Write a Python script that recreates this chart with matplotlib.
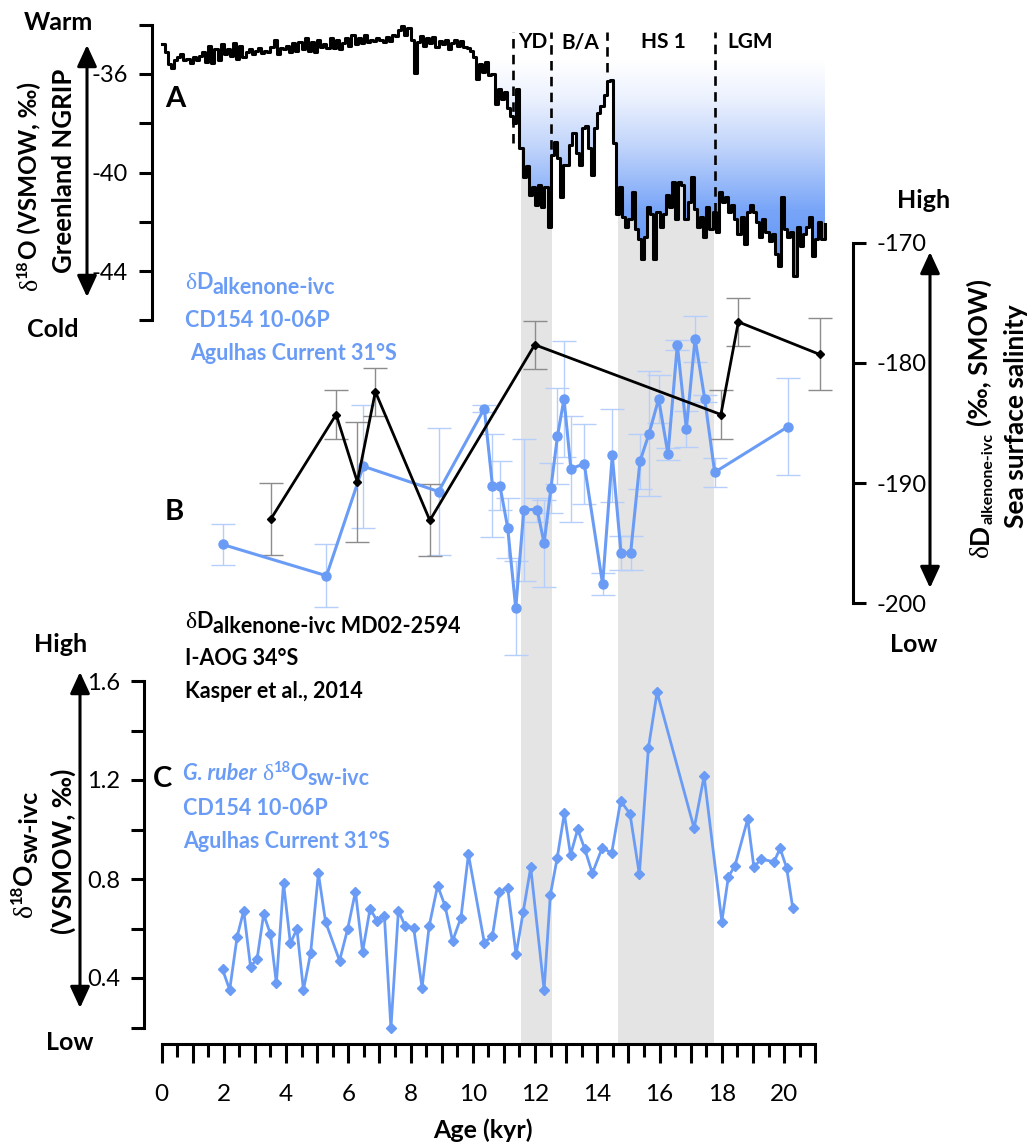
import numpy as np
import matplotlib
matplotlib.use("Agg")
import matplotlib.pyplot as plt
from matplotlib.colors import LinearSegmentedColormap
from matplotlib.patches import FancyArrowPatch, ArrowStyle

# ---------------------------------------------------------------- data
# NGRIP ice core d18O (per mil VSMOW) on a 100-yr grid starting at 0 kyr
ngrip_start = 0.0
ngrip_step = 0.1
ngrip_d18o = [
    -34.80, -35.10, -35.60, -35.75, -35.45, -35.30, -35.20, -35.45, -35.40, -35.55,
    -35.30, -35.45, -35.25, -35.10, -35.50, -34.85, -35.55, -35.00, -35.45, -34.80,
    -35.20, -35.00, -35.25, -34.75, -35.40, -34.85, -35.30, -35.10, -35.00, -35.20,
    -35.05, -34.95, -35.15, -35.05, -35.10, -34.90, -34.60, -35.20, -34.95, -35.00,
    -34.85, -35.10, -34.75, -35.05, -34.70, -35.00, -34.55, -35.05, -34.70, -35.10,
    -34.60, -34.90, -34.80, -34.95, -34.55, -34.95, -34.60, -35.00, -34.75, -34.55,
    -34.85, -34.40, -34.80, -34.55, -34.75, -34.40, -34.70, -34.60, -34.65, -34.55,
    -34.60, -34.70, -34.50, -34.65, -34.40, -34.45, -34.20, -34.05, -34.40, -34.15,
    -34.60, -35.95, -34.70, -34.45, -34.85, -34.55, -34.75, -34.50, -34.90, -34.65,
    -34.80, -34.60, -35.00, -34.75, -34.60, -34.85, -34.65, -34.90, -34.95, -35.05,
    -35.30, -36.20, -35.60, -35.90, -35.50, -36.05, -36.00, -37.20, -36.60, -37.00,
    -36.75, -37.40, -37.70, -38.00, -36.60, -39.00, -40.20, -39.75, -40.90, -40.60,
    -41.30, -40.50, -41.40, -40.60, -42.20, -39.30, -38.75, -39.40, -41.00, -39.70,
    -39.70, -38.90, -38.40, -39.20, -39.70, -38.20, -38.10, -39.00, -40.10, -38.20,
    -37.60, -37.30, -36.85, -36.30, -36.25, -38.80, -41.70, -40.60, -41.80, -42.20,
    -41.90, -40.80, -42.30, -42.70, -43.50, -42.60, -41.40, -41.70, -43.50, -41.60,
    -42.20, -41.70, -40.90, -41.40, -40.40, -41.90, -40.40, -40.50, -41.90, -41.20,
    -40.20, -41.50, -42.20, -41.80, -42.60, -41.40, -42.30, -41.60, -42.40, -40.80,
    -41.20, -41.00, -41.60, -41.30, -41.90, -42.50, -41.80, -42.90, -41.60, -41.30,
    -41.60, -42.00, -42.60, -41.90, -42.40, -42.80, -42.50, -43.30, -43.80, -41.00,
    -42.30, -42.60, -42.40, -44.20, -42.20, -43.00, -42.50, -42.20, -41.80, -43.40,
    -42.70, -42.00, -42.70, -42.10,
]
ngrip_fill_from = 10.0  # kyr, start of the shaded deglacial/glacial part

# CD154 10-06P alkenone dD, ice-volume corrected (per mil SMOW)
cd154_dd_age = [1.96, 5.30, 6.48, 8.90, 10.37, 10.63, 10.87, 11.12, 11.38, 11.64,
                12.07, 12.29, 12.51, 12.72, 12.93, 13.15, 13.58, 14.17, 14.48, 14.76,
                15.07, 15.37, 15.66, 15.97, 16.27, 16.57, 16.86, 17.14, 17.45, 17.77,
                20.13]
cd154_dd = [-195.1, -197.7, -188.6, -190.7, -183.8, -190.2, -190.2, -193.7, -200.4, -192.2,
            -192.2, -195.0, -190.4, -186.1, -183.0, -188.8, -188.4, -198.4, -187.7, -195.8,
            -195.8, -188.2, -185.9, -183.0, -187.6, -178.5, -185.5, -178.0, -183.0, -189.1,
            -185.3]
cd154_dd_err = [1.7, 2.6, 5.1, 5.3, 0.3, 4.3, 2.0, 2.5, 3.9, 5.9,
                1.0, 3.6, 2.1, 4.0, 4.8, 4.4, 3.3, 0.9, 3.9, 1.4,
                1.4, 2.3, 5.2, 2.0, 0.5, 0.4, 1.5, 1.9, 0.3, 1.2,
                4.0]

# MD02-2594 alkenone dD, ice-volume corrected (Kasper et al., 2014)
md02_dd_age = [3.51, 5.61, 6.29, 6.87, 8.62, 11.99, 17.97, 18.53, 21.14]
md02_dd = [-193.0, -184.3, -189.9, -182.4, -193.1, -178.5, -184.3, -176.6, -179.3]
md02_dd_err = [3.0, 2.0, 5.0, 2.0, 3.0, 2.0, 2.0, 2.0, 3.0]

# CD154 10-06P G. ruber d18O seawater, ice-volume corrected (per mil VSMOW)
cd154_d18osw_age = [1.96, 2.19, 2.43, 2.64, 2.86, 3.07, 3.28, 3.50, 3.69, 3.92,
                    4.14, 4.35, 4.56, 4.79, 5.04, 5.27, 5.72, 5.98, 6.23, 6.46,
                    6.70, 6.92, 7.16, 7.37, 7.61, 7.83, 8.10, 8.37, 8.60, 8.87,
                    9.11, 9.35, 9.62, 9.86, 10.37, 10.63, 10.85, 11.12, 11.39, 11.62,
                    11.86, 12.29, 12.49, 12.71, 12.94, 13.14, 13.37, 13.60, 13.84, 14.16,
                    14.46, 14.75, 15.05, 15.35, 15.64, 15.92, 17.11, 17.43, 18.00, 18.21,
                    18.42, 18.83, 19.03, 19.25, 19.68, 19.87, 20.08, 20.28]
cd154_d18osw = [0.435, 0.352, 0.567, 0.672, 0.446, 0.476, 0.657, 0.578, 0.379, 0.783,
                0.540, 0.598, 0.352, 0.500, 0.823, 0.627, 0.470, 0.598, 0.749, 0.506,
                0.680, 0.632, 0.651, 0.197, 0.672, 0.610, 0.603, 0.361, 0.611, 0.773,
                0.691, 0.549, 0.644, 0.900, 0.543, 0.570, 0.749, 0.765, 0.496, 0.668,
                0.847, 0.352, 0.735, 0.884, 1.065, 0.897, 1.001, 0.920, 0.823, 0.927,
                0.904, 1.116, 1.063, 0.819, 1.328, 1.555, 1.005, 1.216, 0.628, 0.809,
                0.853, 1.042, 0.847, 0.880, 0.870, 0.924, 0.846, 0.682]

# climate intervals
phase_bounds = [11.28, 12.50, 14.30, 17.78]
phase_bound_low = [-38.8, -39.7, -35.9, -41.6]
phase_names = ["YD", "B/A", "HS 1", "LGM"]
phase_label_age = [11.92, 13.45, 16.12, 18.92]
band_start = [11.55, 14.65]
band_end = [12.55, 17.75]

# axis ticks
a_ticks = [-46, -44, -42, -40, -38, -36, -34]
a_labels = ["", "-44", "", "-40", "", "-36", ""]
b_ticks = [-200, -190, -180, -170]
b_labels = ["-200", "-190", "-180", "-170"]
c_ticks = [0.2, 0.4, 0.6, 0.8, 1.0, 1.2, 1.4, 1.6]
c_labels = ["", "0.4", "", "0.8", "", "1.2", "", "1.6"]
x_major = list(range(0, 22))
x_labels = [str(v) if v % 2 == 0 else "" for v in x_major]
x_minor = [v + 0.5 for v in range(0, 21)]

# ---------------------------------------------------------------- style
W, H, DPI = 1035, 1147, 100
SANS = ["Lato", "DejaVu Sans"]
SERIF = ["Liberation Serif", "DejaVu Serif"]
BLUE = "#6a9cf6"
BLUE_ERR = "#b5cefb"
GRAY_ERR = "#8c8c8c"
BAND = "#e4e4e4"
SPINE_W = 2.2

plt.rcParams["font.family"] = SANS
plt.rcParams["axes.unicode_minus"] = False

fig = plt.figure(figsize=(W / DPI, H / DPI), dpi=DPI)

# horizontal layout shared by all panels (pixels)
PX0, PXK = 161.5, 31.13
XLIM = (-1.0, 23.0)


def axes_px(top, bottom, z):
    left = PX0 + XLIM[0] * PXK
    width = (XLIM[1] - XLIM[0]) * PXK
    ax = fig.add_axes([left / W, 1 - bottom / H, width / W, (bottom - top) / H], zorder=z)
    ax.set_xlim(*XLIM)
    ax.set_facecolor("none")
    return ax


def hide_spines(ax, names):
    for n in names:
        ax.spines[n].set_visible(False)


# pixel-space layer for free text and arrows
bg = fig.add_axes([0, 0, 1, 1], zorder=0.5)
bg.set_xlim(0, W)
bg.set_ylim(H, 0)
bg.axis("off")


def rich(pieces, x, y, rotation=0, color="black"):
    prev = None
    for p in pieces:
        if prev is None:
            xy, coords = (x, y), bg.transData
        elif rotation == 0:
            xy, coords = (1, y), (prev, bg.transData)
        else:
            xy, coords = (x, 1), (bg.transData, prev)
        rise, gap = p.get("rise", 0), p.get("gap", 0)
        off = (gap, rise) if rotation == 0 else (-rise, gap)
        prev = bg.annotate(p["s"], xy=xy, xycoords=coords, xytext=off,
                           textcoords="offset points", fontsize=p.get("size", 15.5),
                           fontweight=p.get("weight", "bold"), fontstyle=p.get("style", "normal"),
                           family=p.get("family", SANS), color=color, ha="left",
                           va="baseline", rotation=rotation, rotation_mode="anchor",
                           annotation_clip=False)
    return prev


def darrow(x, y_top, y_bot):
    bg.add_patch(FancyArrowPatch((x, y_bot), (x, y_top),
                                 arrowstyle=ArrowStyle("<|-|>", head_length=1.3, head_width=0.6),
                                 mutation_scale=10, lw=2.2, color="black",
                                 shrinkA=0, shrinkB=0))


# ---------------------------------------------------------------- shaded intervals
band_ax = axes_px(25, 1044, 0)
band_ax.set_ylim(0, 1)
for s, e in zip(band_start, band_end):
    band_ax.axvspan(s, e, color=BAND, lw=0)
band_ax.axis("off")

# ---------------------------------------------------------------- panel A: NGRIP
A_LIM = (-46.2, -33.8)
a_top = 74 + (-36 - A_LIM[1]) * 24.625
a_bot = 74 + (-36 - A_LIM[0]) * 24.625
axA = axes_px(a_top, a_bot, 2)

ages = ngrip_start + ngrip_step * np.arange(len(ngrip_d18o))
vals = np.array(ngrip_d18o)
sel = ages >= ngrip_fill_from - 1e-9
fill = axA.fill_between(ages[sel], vals[sel], -34, step="post",
                        facecolor="none", edgecolor="none")
cmap = LinearSegmentedColormap.from_list(
    "ngrip_fill",
    [(0.0, "#ffffff"), (0.14, "#ffffff"), (0.29, "#ebf1fe"), (0.48, "#bfd3fb"),
     (0.72, "#78a5f8"), (1.0, "#5a8ef6")])
grad = np.linspace(1, 0, 256).reshape(-1, 1)
im = axA.imshow(grad, cmap=cmap, extent=(ngrip_fill_from, ages[-1], -44.5, -34.0),
                origin="lower", aspect="auto", zorder=1, interpolation="bilinear")
im.set_clip_path(fill.get_paths()[0], transform=axA.transData)

axA.step(ages, vals, where="post", color="black", lw=2.2, zorder=3)
axA.vlines(phase_bounds, phase_bound_low, -34.3, colors="black", lw=1.9,
           linestyles=(0, (3.6, 2.4)), zorder=4)
for a, name in zip(phase_label_age, phase_names):
    axA.text(a, -34.95, name, ha="center", va="baseline", fontsize=15, fontweight="bold")

axA.set_xlim(*XLIM)
axA.set_ylim(*A_LIM)
hide_spines(axA, ["top", "right", "bottom"])
axA.spines["left"].set_position(("data", -0.3))
axA.spines["left"].set_bounds(-46, -34)
axA.spines["left"].set_linewidth(SPINE_W)
axA.set_yticks(a_ticks, labels=a_labels)
axA.tick_params(axis="y", direction="out", length=9.5, width=SPINE_W, pad=8, labelsize=17)
axA.xaxis.set_visible(False)

# ---------------------------------------------------------------- panel B: alkenone dD
B_LIM = (-206, -164)
b_top = 242.5 + (-170 - B_LIM[1]) * 12.03
b_bot = 242.5 + (-170 - B_LIM[0]) * 12.03
axB = axes_px(b_top, b_bot, 3)
axB.errorbar(cd154_dd_age, cd154_dd, yerr=cd154_dd_err, fmt="none", ecolor=BLUE_ERR,
             elinewidth=1.0, capsize=8.5, capthick=1.0, zorder=2)
axB.plot(cd154_dd_age, cd154_dd, "-o", color=BLUE, lw=2.2, ms=6.5, zorder=3)
axB.errorbar(md02_dd_age, md02_dd, yerr=md02_dd_err, fmt="none", ecolor=GRAY_ERR,
             elinewidth=1.0, capsize=8.5, capthick=1.0, zorder=2)
axB.plot(md02_dd_age, md02_dd, "-D", color="black", lw=2.0, ms=4.5, zorder=4)
axB.set_ylim(*B_LIM)
hide_spines(axB, ["top", "left", "bottom"])
axB.spines["right"].set_position(("data", 22.2))
axB.spines["right"].set_bounds(-200, -170)
axB.spines["right"].set_linewidth(SPINE_W)
axB.yaxis.tick_right()
axB.set_yticks(b_ticks, labels=b_labels)
axB.tick_params(axis="y", direction="out", length=9, width=SPINE_W, pad=8, labelsize=17)
axB.xaxis.set_visible(False)

# ---------------------------------------------------------------- panel C: d18Osw
C_LIM = (0.1333, 1.72)
c_top = 681 + (1.6 - C_LIM[1]) * 247.5
c_bot = 681 + (1.6 - C_LIM[0]) * 247.5
axC = axes_px(c_top, c_bot, 4)
axC.plot(cd154_d18osw_age, cd154_d18osw, "-D", color=BLUE, lw=2.0, ms=5.0, zorder=3)
axC.set_ylim(*C_LIM)
hide_spines(axC, ["top", "right"])
axC.spines["left"].set_position(("data", -0.55))
axC.spines["left"].set_bounds(0.2, 1.6)
axC.spines["bottom"].set_bounds(0, 21)
for n in ["left", "bottom"]:
    axC.spines[n].set_linewidth(SPINE_W)
axC.set_yticks(c_ticks, labels=c_labels)
axC.tick_params(axis="y", direction="out", length=9.5, width=SPINE_W, pad=8, labelsize=17)
axC.set_xticks(x_major, labels=x_labels)
axC.set_xticks(x_minor, minor=True)
axC.tick_params(axis="x", which="major", direction="out", length=14, width=SPINE_W,
                pad=15, labelsize=17.5)
axC.tick_params(axis="x", which="minor", direction="out", length=9.5, width=SPINE_W)

# ---------------------------------------------------------------- arrows and annotations
darrow(87, 45, 297)
darrow(80, 672, 1008)
darrow(930, 252, 588)

big = dict(ha="center", va="baseline", fontsize=18, fontweight="bold")
bg.text(58, 30, "Warm", **big)
bg.text(53, 337, "Cold", **big)
bg.text(61, 652, "High", **big)
bg.text(70, 1050, "Low", **big)
bg.text(924, 208, "High", **big)
bg.text(914, 652, "Low", **big)
bg.text(483, 1138, "Age (kyr)", **big)

letter = dict(ha="left", va="baseline", fontsize=21, fontweight="bold")
bg.text(165, 107, "A", **letter)
bg.text(165, 520, "B", **letter)
bg.text(153, 787, "C", **letter)

# vertical axis titles
rich([dict(s="δ", family=SERIF, weight="normal", size=18.5),
      dict(s="18", size=11.5, rise=7),
      dict(s="O (VSMOW, ‰)", size=17.5)], 37, 290, rotation=90)
bg.text(72, 171, "Greenland NGRIP", rotation=90, rotation_mode="anchor",
        ha="center", va="baseline", fontsize=18.5, fontweight="bold")

rich([dict(s="δ", family=SERIF, weight="normal", size=20),
      dict(s="18", size=12, rise=7.5),
      dict(s="O", size=19),
      dict(s="sw-ivc", size=18, rise=-4)], 32, 917, rotation=90)
bg.text(72, 851, "(VSMOW, ‰)", rotation=90, rotation_mode="anchor",
        ha="center", va="baseline", fontsize=19, fontweight="bold")

rich([dict(s="δ", family=SERIF, weight="normal", size=20),
      dict(s="D", size=19),
      dict(s="alkenone-ivc", size=11.5, rise=-3.5),
      dict(s="(‰, SMOW)", size=19, gap=5)], 988, 557, rotation=90)
bg.text(1024, 416, "Sea surface salinity", rotation=90, rotation_mode="anchor",
        ha="center", va="baseline", fontsize=19, fontweight="bold")

# record labels
lab = dict(ha="left", va="baseline", fontsize=15.5, fontweight="bold")
rich([dict(s="δ", family=SERIF, weight="normal", size=17),
      dict(s="D"),
      dict(s="alkenone-ivc", rise=-3.5)], 185, 289, color=BLUE)
bg.text(185, 327, "CD154 10-06P", color=BLUE, **lab)
bg.text(190, 360, "Agulhas Current 31°S", color=BLUE, **lab)

rich([dict(s="δ", family=SERIF, weight="normal", size=17),
      dict(s="D"),
      dict(s="alkenone-ivc MD02-2594", rise=-3.5)], 185, 628)
bg.text(185, 665, "I-AOG 34°S", **lab)
bg.text(185, 698, "Kasper et al., 2014", **lab)

rich([dict(s="G. ruber", style="italic"),
      dict(s="δ", family=SERIF, weight="normal", size=17, gap=4),
      dict(s="18", size=10.5, rise=6),
      dict(s="O"),
      dict(s="sw-ivc", rise=-3.5)], 183, 780, color=BLUE)
bg.text(183, 815, "CD154 10-06P", color=BLUE, **lab)
bg.text(183, 848, "Agulhas Current 31°S", color=BLUE, **lab)

fig.savefig("out.png", dpi=DPI)
